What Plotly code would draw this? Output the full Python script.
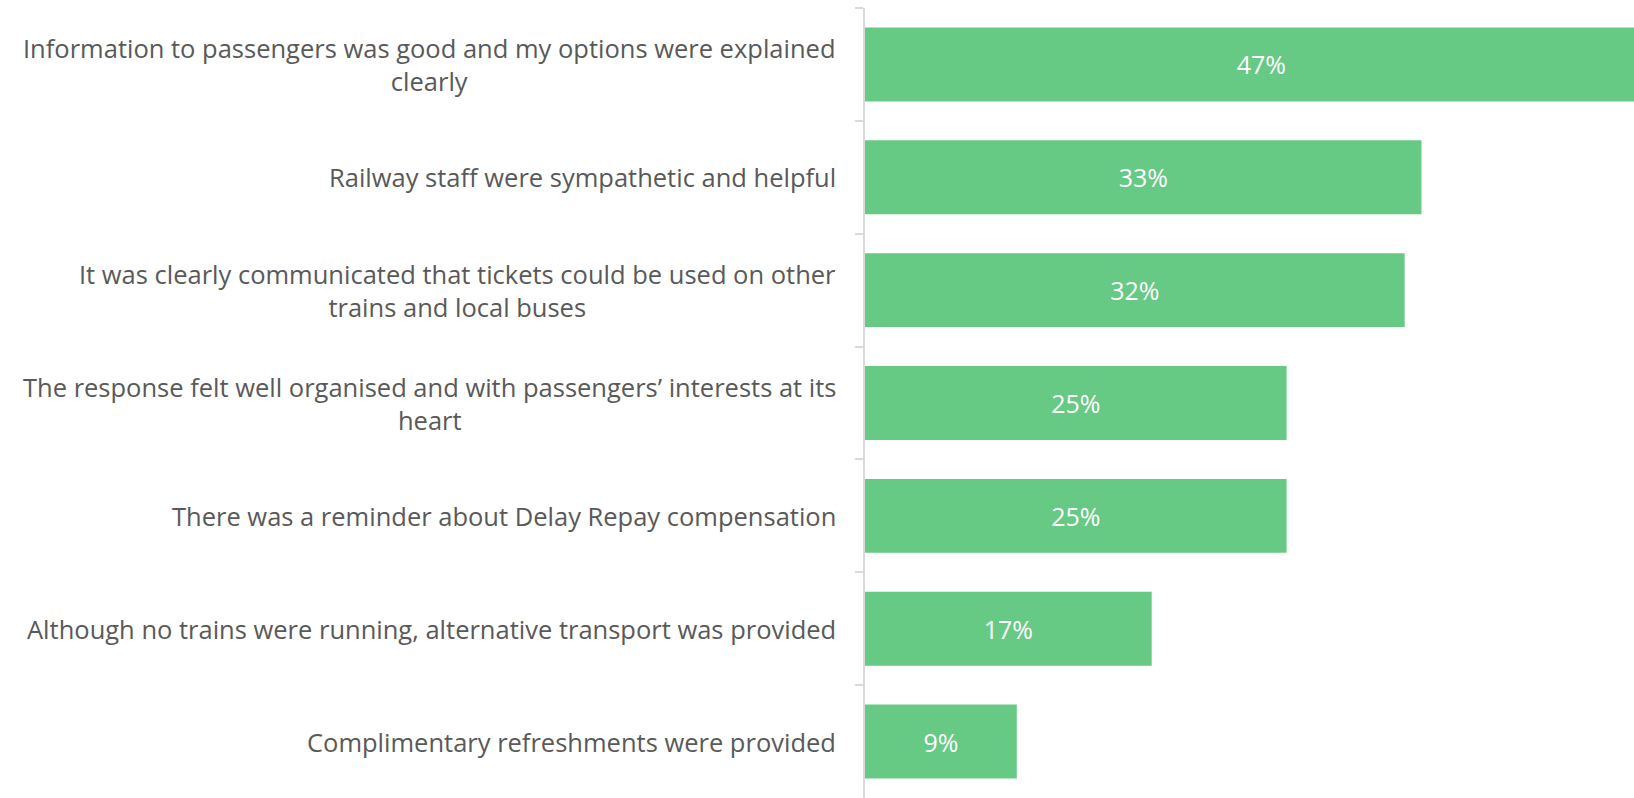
import plotly.graph_objects as go

categories = [
    "Information to passengers was good and my options were explained<br>clearly",
    "Railway staff were sympathetic and helpful",
    "It was clearly communicated that tickets could be used on other<br>trains and local buses",
    "The response felt well organised and with passengers\u2019 interests at its<br>heart",
    "There was a reminder about Delay Repay compensation",
    "Although no trains were running, alternative transport was provided",
    "Complimentary refreshments were provided",
]
values = [47, 33, 32, 25, 25, 17, 9]
value_labels = ["47%", "33%", "32%", "25%", "25%", "17%", "9%"]

BAR_GREEN = "#66C984"
LABEL_GREY = "#595959"
FONT = "Open Sans, sans-serif"

fig = go.Figure(
    go.Bar(
        y=categories,
        x=values,
        orientation="h",
        marker=dict(color=BAR_GREEN, line=dict(width=0)),
        text=value_labels,
        textposition="inside",
        insidetextanchor="middle",
        textfont=dict(family=FONT, size=25, color="white"),
        hoverinfo="skip",
    )
)

# category labels as annotations so wrapped lines stay centred under each other
for cat in categories:
    fig.add_annotation(
        x=0,
        xref="paper",
        y=cat,
        yref="y",
        xanchor="right",
        xshift=-27,
        text=cat,
        showarrow=False,
        align="center",
        font=dict(family=FONT, size=25.5, color=LABEL_GREY),
    )

fig.update_layout(
    width=1634,
    height=798,
    margin=dict(l=865, r=0, t=8, b=0),
    paper_bgcolor="white",
    plot_bgcolor="white",
    bargap=0.345,
    showlegend=False,
)
fig.update_xaxes(
    range=[0, 45.6],
    showgrid=False,
    zeroline=False,
    showticklabels=False,
    showline=False,
    fixedrange=True,
)
fig.update_yaxes(
    autorange="reversed",
    showgrid=False,
    zeroline=False,
    showticklabels=False,
    showline=True,
    linecolor="#D9D9D9",
    linewidth=2,
    ticks="outside",
    tickson="boundaries",
    ticklen=8,
    tickcolor="#D9D9D9",
    tickwidth=2,
    fixedrange=True,
)

# drop the browser's default body margin so the figure fills the window exactly
fig.write_html(
    "out.html",
    config={"displayModeBar": False},
    post_script="document.body.style.margin='0';",
)
